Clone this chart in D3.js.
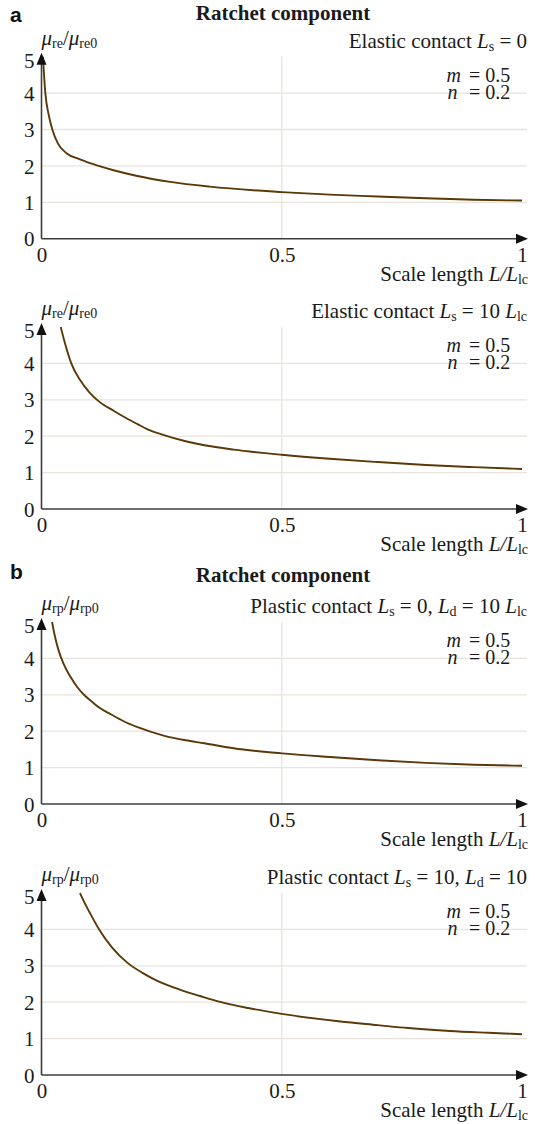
<!DOCTYPE html>
<html><head><meta charset="utf-8">
<script src="https://cdn.jsdelivr.net/npm/d3@7"></script>
<style>
html,body{margin:0;padding:0;background:#fff;}
text{font-family:"Liberation Serif","Times New Roman",serif;fill:#1a1a1a;}
</style></head>
<body><svg id="chart" width="535" height="1124"></svg>
<script>
// ---- data ----
const xTickValues = [0, 0.5, 1];
const xTickLabels = ["0", "0.5", "1"];
const yTickValues = [0, 1, 2, 3, 4, 5];
const gridY = [1, 2, 3, 4];
const gridX = [0.5];

// panel 1: elastic contact Ls = 0
const p1L = [0.003,0.008,0.015,0.023,0.034,0.052,0.08,0.119,0.15,0.197,0.268,0.35,0.5,0.6,0.7,0.8,0.9,1.0];
const p1Mu = [5.0,4.0,3.4,2.98,2.62,2.35,2.18,2.0,1.88,1.73,1.56,1.43,1.28,1.21,1.16,1.11,1.07,1.05];
// panel 2: elastic contact Ls = 10 Llc
const p2L = [0.04,0.05,0.062,0.08,0.1,0.12,0.15,0.176,0.2,0.222,0.25,0.3,0.339,0.4,0.5,0.6,0.7,0.8,0.9,1.0];
const p2Mu = [5.0,4.5,4.0,3.55,3.2,2.95,2.7,2.5,2.33,2.18,2.05,1.86,1.75,1.63,1.49,1.38,1.29,1.21,1.15,1.1];
// panel 3: plastic contact Ls = 0, Ld = 10 Llc
const p3L = [0.022,0.028,0.036,0.046,0.06,0.075,0.09,0.105,0.12,0.145,0.17,0.2,0.254,0.3,0.339,0.4,0.5,0.6,0.7,0.8,0.9,1.0];
const p3Mu = [5.0,4.6,4.2,3.85,3.5,3.2,2.98,2.81,2.65,2.46,2.28,2.11,1.88,1.75,1.67,1.53,1.39,1.29,1.2,1.13,1.08,1.05];
// panel 4: plastic contact Ls = 10, Ld = 10
const p4L = [0.08,0.09,0.1,0.119,0.147,0.179,0.211,0.239,0.289,0.33,0.374,0.43,0.5,0.622,0.7,0.763,0.85,0.93,1.0];
const p4Mu = [5.0,4.72,4.47,4.02,3.5,3.08,2.8,2.6,2.34,2.17,2.0,1.84,1.68,1.47,1.37,1.29,1.21,1.16,1.12];

// text pieces: [text, style]  style: "" normal, "i" italic, "s" subscript
const yLabelA = [["\u03bc","i"],["re","s"],["/",""],["\u03bc","i"],["re0","s"]];
const yLabelB = [["\u03bc","i"],["rp","s"],["/",""],["\u03bc","i"],["rp0","s"]];
const xTitle = [["Scale length ",""],["L/L","i"],["lc","s"]];
const head1 = [["Elastic contact ",""],["L","i"],["s","s"],[" = 0",""]];
const head2 = [["Elastic contact ",""],["L","i"],["s","s"],[" = 10 ",""],["L","i"],["lc","s"]];
const head3 = [["Plastic contact ",""],["L","i"],["s","s"],[" = 0, ",""],["L","i"],["d","s"],[" = 10 ",""],["L","i"],["lc","s"]];
const head4 = [["Plastic contact ",""],["L","i"],["s","s"],[" = 10, ",""],["L","i"],["d","s"],[" = 10",""]];
const paramNames = ["m", "n"];
const paramValues = ["= 0.5", "= 0.2"];

// ---- layout ----
const svg = d3.select("#chart");
const xLeft = 41.5, xRight = 522, plotH = 182;
const panels = [
  {y0: 238.7, L: p1L, Mu: p1Mu, head: head1, ylab: yLabelA},
  {y0: 509,   L: p2L, Mu: p2Mu, head: head2, ylab: yLabelA},
  {y0: 804,   L: p3L, Mu: p3Mu, head: head3, ylab: yLabelB},
  {y0: 1075,  L: p4L, Mu: p4Mu, head: head4, ylab: yLabelB}
];
const FS = 21, SUB = 14;
const gridColor = "#e8e4dc", axisColor = "#3c3c3c", curveColor = "#5a3808";

function rich(g, x, y, pieces, anchor) {
  const t = g.append("text").attr("x", x).attr("y", y).attr("text-anchor", anchor || "start")
    .style("font-size", FS + "px");
  let shifted = false;
  pieces.forEach(([s, st]) => {
    const ts = t.append("tspan").text(s);
    if (st === "i") ts.style("font-style", "italic");
    if (st === "s") {
      ts.style("font-size", SUB + "px");
      if (!shifted) { ts.attr("dy", 3); shifted = true; }
    } else if (shifted) { ts.attr("dy", -3); shifted = false; }
  });
  t.style("white-space", "pre");
  return t;
}

// section letters and titles
[["a", 22, 20], ["b", 579, 582]].forEach(([lab, yl, yt]) => {
  svg.append("text").attr("x", 10).attr("y", yl).text(lab)
    .style("font-family", "'Liberation Sans',Arial,sans-serif").style("font-weight", "bold")
    .style("font-size", "21px").style("fill", "#111");
  svg.append("text").attr("x", 283).attr("y", yt).attr("text-anchor", "middle")
    .text("Ratchet component").style("font-weight", "bold").style("font-size", "21px");
});

panels.forEach((p, i) => {
  const x = d3.scaleLinear().domain([0, 1]).range([xLeft, xRight]);
  const y = d3.scaleLinear().domain([0, 5]).range([p.y0, p.y0 - plotH]);
  const g = svg.append("g");

  // grid
  g.selectAll(".gh").data(gridY).join("line")
    .attr("x1", x(0)).attr("x2", x(1) + 5).attr("y1", d => y(d)).attr("y2", d => y(d))
    .attr("stroke", gridColor).attr("stroke-width", 1.3);
  g.selectAll(".gv").data(gridX).join("line")
    .attr("x1", d => x(d)).attr("x2", d => x(d)).attr("y1", y(5)).attr("y2", y(0))
    .attr("stroke", gridColor).attr("stroke-width", 1.3);

  // curve
  const line = d3.line().x(d => x(d[0])).y(d => y(d[1])).curve(d3.curveMonotoneX);
  g.append("path").datum(d3.zip(p.L, p.Mu)).attr("d", line)
    .attr("fill", "none").attr("stroke", curveColor).attr("stroke-width", 1.9);

  // axes lines with arrows
  const tipX = x(1) + 6, tipY = y(5) - 4;
  g.append("line").attr("x1", x(0)).attr("x2", tipX - 8).attr("y1", y(0)).attr("y2", y(0))
    .attr("stroke", axisColor).attr("stroke-width", 1.6);
  g.append("line").attr("x1", x(0)).attr("x2", x(0)).attr("y1", y(0)).attr("y2", tipY + 8)
    .attr("stroke", axisColor).attr("stroke-width", 1.6);
  g.append("path").attr("d", `M${tipX},${y(0)} L${tipX - 12},${y(0) - 5} L${tipX - 12},${y(0) + 5} Z`).attr("fill", "#111");
  g.append("path").attr("d", `M${x(0)},${tipY} L${x(0) - 5},${tipY + 12} L${x(0) + 5},${tipY + 12} Z`).attr("fill", "#111");

  // tick labels via d3 axes
  const ya = g.append("g").attr("transform", `translate(${x(0)},0)`)
    .call(d3.axisLeft(y).tickValues(yTickValues).tickSize(0).tickPadding(7).tickFormat(d3.format("d")));
  ya.select(".domain").remove();
  ya.selectAll("text").style("font-family", "'Liberation Serif','Times New Roman',serif")
    .style("font-size", FS + "px").style("fill", "#1a1a1a")
    .attr("dy", d => d === 5 ? "0.5em" : "0.34em");
  const xa = g.append("g").attr("transform", `translate(0,${y(0)})`)
    .call(d3.axisBottom(x).tickValues(xTickValues).tickSize(0).tickPadding(8)
      .tickFormat((d, j) => xTickLabels[j]));
  xa.select(".domain").remove();
  xa.selectAll("text").style("font-family", "'Liberation Serif','Times New Roman',serif")
    .style("font-size", FS + "px").style("fill", "#1a1a1a");

  // labels
  rich(g, x(0), p.y0 - 194, p.ylab, "start");
  rich(g, 527, p.y0 - 191, p.head, "end");
  rich(g, 528, p.y0 + 42, xTitle, "end");

  // parameters m, n as one text block (two lines)
  const pt = g.append("text").style("font-size", "20px").style("white-space", "pre");
  paramNames.forEach((nm, k) => {
    const yy = p.y0 - 157 + k * 17;
    pt.append("tspan").attr("x", k === 0 ? 446.5 : 447.5).attr("y", yy).text(nm)
      .style("font-style", "italic");
    pt.append("tspan").attr("x", 469).attr("y", yy).text(paramValues[k]);
  });
});
</script></body></html>
